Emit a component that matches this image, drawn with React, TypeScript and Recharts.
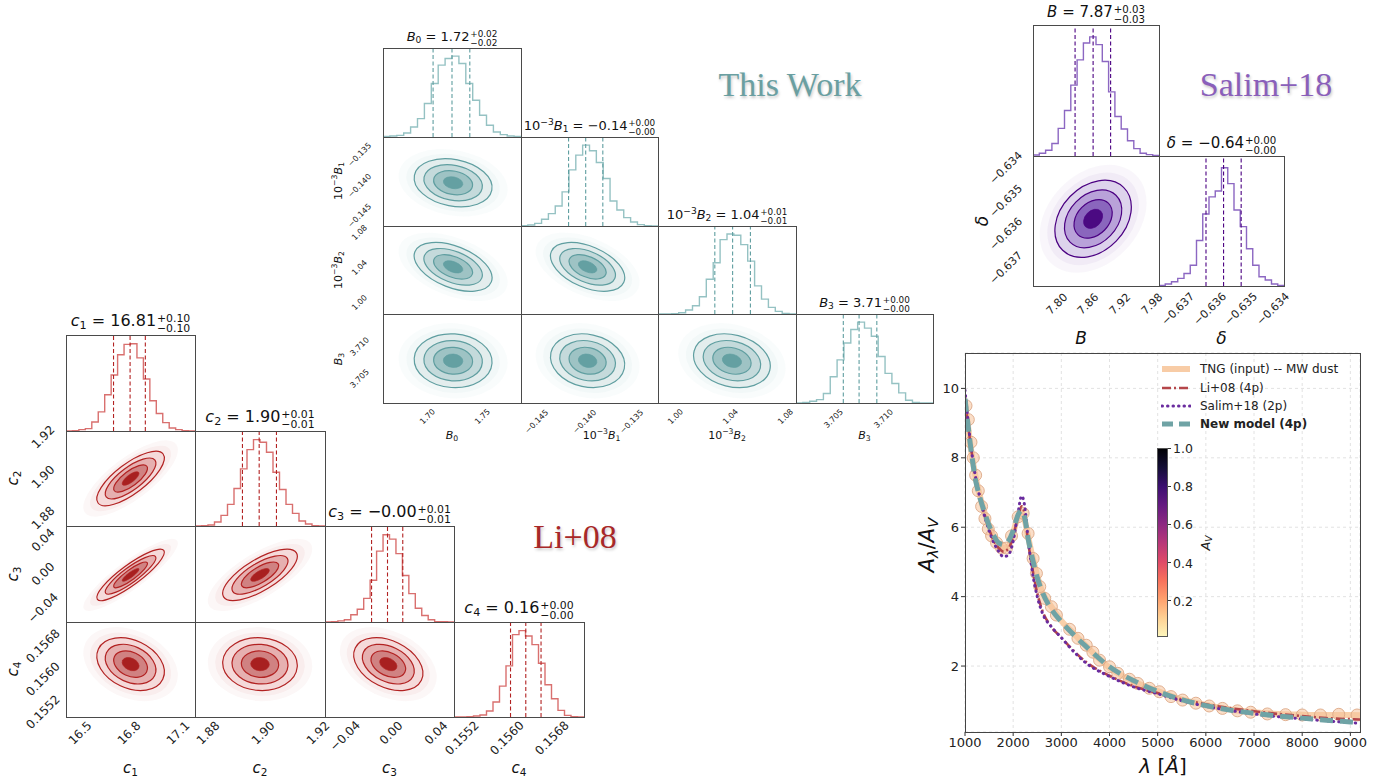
import React from 'react';
import { ComposedChart, ScatterChart, Line, Scatter, XAxis, YAxis, ReferenceLine, CartesianGrid } from 'recharts';

const FONT = '"DejaVu Sans", Verdana, sans-serif';
const MINUS = '\u2212';

// ================= Extinction curve panel =================
const lambdaGrid = [1000, 1050, 1100, 1150, 1200, 1300, 1400, 1500, 1600, 1700, 1800, 1900, 2000, 2100, 2175, 2250, 2300, 2400, 2500, 2600, 2800, 3000, 3200, 3500, 4000, 4500, 5000, 5500, 6000, 6500, 7000, 7500, 8000, 8500, 9000, 9200];
const tngCurve = [9.55, 9.05, 8.5, 8.0, 7.6, 6.95, 6.45, 6.05, 5.72, 5.5, 5.4, 5.45, 5.85, 6.3, 6.42, 6.15, 5.8, 5.15, 4.6, 4.15, 3.7, 3.3, 3.02, 2.6, 1.95, 1.56, 1.28, 1.04, 0.88, 0.75, 0.67, 0.62, 0.6, 0.59, 0.59, 0.58];
const liCurve = [9.75, 9.1, 8.55, 8.05, 7.6, 6.95, 6.4, 5.95, 5.6, 5.4, 5.3, 5.38, 5.75, 6.3, 6.6, 6.3, 5.7, 4.8, 4.1, 3.62, 3.12, 2.82, 2.52, 2.13, 1.72, 1.42, 1.22, 1.04, 0.9, 0.79, 0.7, 0.62, 0.56, 0.5, 0.47, 0.46];
const salimCurve = [9.95, 9.25, 8.6, 8.05, 7.6, 6.9, 6.35, 5.9, 5.55, 5.3, 5.15, 5.2, 5.6, 6.4, 6.9, 6.5, 5.8, 4.7, 4.0, 3.55, 3.12, 2.82, 2.5, 2.1, 1.7, 1.4, 1.2, 1.0, 0.84, 0.72, 0.62, 0.54, 0.48, 0.42, 0.37, 0.35];
const newModelCurve = [9.7, 9.1, 8.5, 7.98, 7.5, 6.9, 6.45, 6.05, 5.75, 5.55, 5.5, 5.6, 5.9, 6.35, 6.48, 6.2, 5.75, 5.1, 4.55, 4.15, 3.62, 3.28, 2.98, 2.58, 1.98, 1.58, 1.27, 1.03, 0.86, 0.73, 0.64, 0.56, 0.5, 0.44, 0.39, 0.37];
const tngMarkerLambda = [1021, 1069, 1124, 1172, 1221, 1276, 1345, 1414, 1483, 1552, 1655, 1759, 1862, 1966, 2103, 2207, 2310, 2414, 2483, 2552, 2655, 2793, 2897, 3172, 3345, 3517, 3655, 3793, 4000, 4172, 4414, 4586, 4828, 5034, 5276, 5517, 5793, 6069, 6345, 6655, 6931, 7276, 7655, 8000, 8379, 8759, 9138];
const tngMarkerValue = [9.5, 9.1, 8.45, 8.0, 7.5, 7.05, 6.6, 6.25, 5.95, 5.75, 5.55, 5.4, 5.4, 5.75, 6.3, 6.4, 5.82, 5.1, 4.67, 4.29, 3.95, 3.71, 3.47, 3.06, 2.8, 2.6, 2.4, 2.17, 1.98, 1.79, 1.62, 1.5, 1.36, 1.26, 1.12, 1.02, 0.93, 0.85, 0.78, 0.71, 0.67, 0.62, 0.6, 0.59, 0.59, 0.61, 0.59];
const lambdaTicks = [1000, 2000, 3000, 4000, 5000, 6000, 7000, 8000, 9000];
const ratioTicks = [2, 4, 6, 8, 10];
const colorbarTicks = [0.2, 0.4, 0.6, 0.8, 1.0];

// ================= This Work (teal corner) =================
const tealDomains = [[1.660, 1.784], [-0.1467, -0.1323], [0.9865, 1.0873], [3.7011, 3.7150]];
const tealTicks = [[1.70, 1.75], [-0.145, -0.140, -0.135], [1.00, 1.04, 1.08], [3.705, 3.710]];
const tealDecimals = [2, 3, 2, 3];
const tealLo = [1.705, -0.1417, 1.028, 3.7059];
const tealMed = [1.722, -0.1399, 1.041, 3.7075];
const tealHi = [1.738, -0.1381, 1.054, 3.7093];
const tealCenters = [1.723, -0.1397, 1.0405, 3.7077];
const tealSigmas = [0.0175, 0.00195, 0.014, 0.0021];
const tealB0Hist = [2, 3, 5, 12, 30, 55, 100, 160, 215, 235, 242, 220, 160, 110, 65, 35, 15, 7, 3, 2];
const tealB1Hist = [1, 3, 8, 20, 37, 60, 102, 168, 212, 242, 225, 190, 142, 75, 48, 25, 12, 4, 1, 0.5];
const tealB2Hist = [0, 0.5, 1, 4, 12, 25, 52, 105, 155, 225, 242, 238, 210, 160, 85, 45, 20, 8, 2, 0.5];
const tealB3Hist = [0, 2, 5, 10, 28, 78, 128, 178, 218, 240, 222, 198, 138, 88, 58, 30, 8, 2, 0.5, 0];
const tealRho = [[1], [-0.2, 1], [-0.45, -0.45, 1], [-0.05, -0.15, -0.2, 1]];
const tealTitleVals = ['1.72', MINUS + '0.14', '1.04', '3.71'];
const tealPlus = ['+0.02', '+0.00', '+0.01', '+0.00'];
const tealMinus = [MINUS + '0.02', MINUS + '0.00', MINUS + '0.01', MINUS + '0.00'];

// ================= Li+08 (red corner) =================
const redDomains = [[16.416, 17.203], [1.8753, 1.9227], [-0.0576, 0.0557], [0.15506, 0.15736]];
const redTicks = [[16.5, 16.8, 17.1], [1.88, 1.90, 1.92], [-0.04, 0.0, 0.04], [0.1552, 0.1560, 0.1568]];
const redDecimals = [1, 2, 2, 4];
const redLo = [16.706, 1.8926, -0.0167, 0.15606];
const redMed = [16.807, 1.8987, -0.0027, 0.15633];
const redHi = [16.900, 1.9050, 0.0107, 0.1566];
const redCenters = [16.81, 1.899, -0.002, 0.15634];
const redSigmas = [0.103, 0.0068, 0.0152, 0.00032];
const redC1Hist = [0.5, 1, 4, 7, 27, 57, 108, 167, 227, 258, 260, 218, 155, 90, 52, 25, 9, 4, 1, 0.5];
const redC2Hist = [0, 1, 3, 12, 32, 65, 113, 172, 230, 260, 252, 222, 162, 110, 65, 38, 15, 6, 1, 0];
const redC3Hist = [0, 0.5, 3, 6, 20, 35, 65, 115, 195, 240, 228, 188, 128, 78, 38, 18, 6, 1, 0.5, 0];
const redC4Hist = [0, 0.5, 1, 3, 6, 18, 45, 93, 154, 248, 260, 244, 218, 162, 97, 55, 20, 5, 1, 0];
const redRho = [[1], [0.75, 1], [0.88, 0.72, 1], [-0.3, -0.05, -0.35, 1]];
const redTitleVals = ['16.81', '1.90', MINUS + '0.00', '0.16'];
const redPlus = ['+0.10', '+0.01', '+0.01', '+0.00'];
const redMinus = [MINUS + '0.10', MINUS + '0.01', MINUS + '0.01', MINUS + '0.00'];

// ================= Salim+18 (purple corner) =================
const purDomains = [[7.7557, 7.9932], [-0.63758, -0.63367]];
const purTicks = [[7.80, 7.86, 7.92, 7.98], [-0.637, -0.636, -0.635, -0.634]];
const purDecimals = [2, 3];
const purLo = [7.835, -0.63611];
const purMed = [7.869, -0.63556];
const purHi = [7.902, -0.63501];
const purCenters = [7.869, -0.63556];
const purSigmas = [0.036, 0.00058];
const purBHist = [3, 8, 17, 37, 82, 135, 210, 285, 335, 353, 330, 280, 190, 117, 80, 45, 22, 8, 4, 2];
const purDeltaHist = [2, 6, 13, 23, 38, 63, 138, 218, 270, 288, 358, 310, 230, 180, 113, 63, 28, 18, 6, 2];
const purRho = [[1], [0.3, 1]];
const purTitleVals = ['7.87', MINUS + '0.64'];
const purPlus = ['+0.03', '+0.00'];
const purMinus = [MINUS + '0.03', MINUS + '0.00'];

// ================= helpers =================
type Palette = { line: string; hist: string; fills: string[] };
const TEAL: Palette = { line: '#5f9ea0', hist: '#95c2c3', fills: ['#e3eded', '#c4dadb', '#9ec3c4', '#64a0a2'] };
const RED: Palette = { line: '#b22222', hist: '#d9706f', fills: ['#f5dada', '#e6b0b0', '#d08282', '#a82020'] };
const PURPLE: Palette = { line: '#4b0082', hist: '#8c67c2', fills: ['#ddd3ec', '#b9a2d9', '#8a66bd', '#4b0a82'] };

function textWidth(s: string, fs: number) {
  let w = 0;
  for (const ch of s) w += ch === '.' ? 0.318 : ch === MINUS ? 0.838 : 0.636;
  return w * fs;
}
function fmt(v: number, d: number) {
  return v.toFixed(d).replace('-', MINUS);
}
const emptyTick = () => <g />;

// 45-degree rotated tick label (HTML), centred on (cx, cy)
function RotLabel({ cx, cy, text, fs }: { cx: number; cy: number; text: string; fs: number }) {
  return (
    <div style={{ position: 'absolute', left: cx, top: cy, transform: 'translate(-50%, -50%) rotate(-45deg)', fontSize: fs, lineHeight: 1, whiteSpace: 'nowrap', color: '#222' }}>
      {text}
    </div>
  );
}

const Sub = ({ children }: { children: React.ReactNode }) => (
  <span style={{ fontSize: '0.7em', verticalAlign: '-0.3em', lineHeight: 0 }}>{children}</span>
);
const Sup = ({ children }: { children: React.ReactNode }) => (
  <span style={{ fontSize: '0.7em', verticalAlign: '0.55em', lineHeight: 0 }}>{children}</span>
);
function Script({ plus, minus }: { plus: string; minus: string }) {
  return (
    <span style={{ display: 'inline-block', verticalAlign: '-0.55em', fontSize: '0.68em', lineHeight: '0.95em', marginLeft: '0.08em' }}>
      <span style={{ display: 'block' }}>{plus}</span>
      <span style={{ display: 'block' }}>{minus}</span>
    </span>
  );
}

function ellipseShape(pxX: number, pxY: number, sx: number, sy: number, rho: number, pal: Palette) {
  return (props: any) => {
    const cx = props.cx ?? props.x + (props.width || 0) / 2;
    const cy = props.cy ?? props.y + (props.height || 0) / 2;
    const ax = sx * pxX, ay = sy * pxY;
    const a = ax * ax, d = ay * ay, b = -rho * ax * ay;
    const T = (a + d) / 2, D = Math.sqrt(((a - d) / 2) ** 2 + b * b);
    const r1 = Math.sqrt(T + D), r2 = Math.sqrt(Math.max(T - D, 0.01));
    const ang = (0.5 * Math.atan2(2 * b, a - d) * 180) / Math.PI;
    const levels = [2, 1.5, 1, 0.5];
    return (
      <g transform={`translate(${cx},${cy}) rotate(${ang})`}>
        <ellipse rx={2.8 * r1} ry={2.8 * r2} fill={pal.line} fillOpacity={0.035} />
        <ellipse rx={2.4 * r1} ry={2.4 * r2} fill={pal.line} fillOpacity={0.045} />
        {levels.map((k, idx) => (
          <ellipse key={k} rx={k * r1} ry={k * r2} fill={pal.fills[idx]} stroke={pal.line} strokeWidth={idx === 3 ? 0.6 : 1.2} />
        ))}
      </g>
    );
  };
}

type CornerProps = {
  left: number; top: number; cellW: number; cellH: number;
  domains: number[][]; ticks: number[][]; decimals: number[];
  hists: number[][]; lo: number[]; med: number[]; hi: number[];
  centers: number[]; sigmas: number[]; rho: number[][];
  pal: Palette; tickFs: number; xGap: number; yOff: number;
  titleFs: number; symbols: React.ReactNode[]; titleVals: string[]; plus: string[]; minus: string[];
  labelFs: number; xLabelY: number; yLabelX: number; labels: React.ReactNode[]; xLabelDx?: number[];
};

const TICK = 3.5;

function Corner(p: CornerProps) {
  const n = p.domains.length;
  const els: React.ReactNode[] = [];
  for (let i = 0; i < n; i++) {
    for (let j = 0; j <= i; j++) {
      const l = Math.round(p.left + j * p.cellW), r = Math.round(p.left + (j + 1) * p.cellW);
      const t = Math.round(p.top + i * p.cellH), b = Math.round(p.top + (i + 1) * p.cellH);
      const w = r - l, h = b - t;
      const showX = i === n - 1, showY = j === 0 && i > 0;
      const key = `${i}-${j}`;
      if (i === j) {
        const cnt = p.hists[j];
        const [d0, d1] = p.domains[j];
        const step = (d1 - d0) / cnt.length; // equal-width histogram bins across the panel range
        const hd = [{ v: d0, c: 0 }, ...cnt.map((c, k) => ({ v: d0 + k * step, c })), { v: d1, c: cnt[cnt.length - 1] }, { v: d1, c: 0 }];
        const ymax = Math.max(...cnt) * 1.1;
        els.push(
          <div key={key} style={{ position: 'absolute', left: l, top: t }}>
            <ComposedChart width={w} height={h} data={hd} margin={{ top: 0, right: 0, bottom: 0, left: 0 }}>
              <XAxis dataKey="v" type="number" domain={[d0, d1]} ticks={p.ticks[j]} interval={0} height={0}
                allowDataOverflow axisLine={false} tickLine={{ stroke: '#444' }} tickSize={TICK} tick={emptyTick} />
              <YAxis type="number" domain={[0, ymax]} hide allowDataOverflow />
              <Line type="stepAfter" dataKey="c" stroke={p.pal.hist} strokeWidth={1.4} dot={false} isAnimationActive={false} />
              {[p.lo[j], p.med[j], p.hi[j]].map((q, k) => (
                <ReferenceLine key={k} x={q} stroke={p.pal.line} strokeDasharray="4 2.5" strokeWidth={1.1} />
              ))}
            </ComposedChart>
          </div>
        );
        els.push(
          <div key={key + 't'} style={{ position: 'absolute', left: (l + r) / 2, top: t - 1, transform: 'translate(-50%, -100%)', whiteSpace: 'nowrap', fontSize: p.titleFs, lineHeight: 1, color: '#111' }}>
            {p.symbols[j]} = {p.titleVals[j]}<Script plus={p.plus[j]} minus={p.minus[j]} />
          </div>
        );
      } else {
        const pxX = w / (p.domains[j][1] - p.domains[j][0]);
        const pxY = h / (p.domains[i][1] - p.domains[i][0]);
        els.push(
          <div key={key} style={{ position: 'absolute', left: l, top: t }}>
            <ScatterChart width={w} height={h} margin={{ top: 0, right: 0, bottom: 0, left: 0 }}>
              <XAxis dataKey="x" type="number" domain={p.domains[j]} ticks={p.ticks[j]} interval={0} height={0}
                allowDataOverflow axisLine={false} tickLine={{ stroke: '#444' }} tickSize={TICK} tick={emptyTick} />
              <YAxis dataKey="y" type="number" domain={p.domains[i]} ticks={p.ticks[i]} interval={0} width={0}
                allowDataOverflow axisLine={false} tickLine={{ stroke: '#444' }} tickSize={TICK} tick={emptyTick} />
              <Scatter data={[{ x: p.centers[j], y: p.centers[i] }]} isAnimationActive={false}
                shape={ellipseShape(pxX, pxY, p.sigmas[j], p.sigmas[i], p.rho[i][j], p.pal)} />
            </ScatterChart>
          </div>
        );
      }
      // tick labels (rotated 45 degrees like the corner plots)
      if (showX) {
        const [d0, d1] = p.domains[j];
        p.ticks[j].forEach((v, k) => {
          const s = fmt(v, p.decimals[j]);
          const half = (textWidth(s, p.tickFs) + 0.75 * p.tickFs) * 0.3536;
          const px = l + ((v - d0) / (d1 - d0)) * w;
          els.push(<RotLabel key={key + 'xt' + k} cx={px} cy={b + p.xGap + half} text={s} fs={p.tickFs} />);
        });
      }
      if (showY) {
        const [d0, d1] = p.domains[i];
        p.ticks[i].forEach((v, k) => {
          const s = fmt(v, p.decimals[i]);
          const py = b - ((v - d0) / (d1 - d0)) * h;
          els.push(<RotLabel key={key + 'yt' + k} cx={l - p.yOff} cy={py + 1} text={s} fs={p.tickFs} />);
        });
      }
      els.push(
        <div key={key + 'f'} style={{ position: 'absolute', left: l, top: t, width: w + 1, height: h + 1, border: '1px solid #4a4a4a', boxSizing: 'border-box', pointerEvents: 'none' }} />
      );
    }
  }
  for (let j = 0; j < n; j++) {
    const cx = p.left + (j + 0.5) * p.cellW + (p.xLabelDx ? p.xLabelDx[j] : 0);
    els.push(
      <div key={'xl' + j} style={{ position: 'absolute', left: cx, top: p.xLabelY, transform: 'translate(-50%, -50%)', whiteSpace: 'nowrap', fontSize: p.labelFs, color: '#111' }}>
        {p.labels[j]}
      </div>
    );
  }
  for (let i = 1; i < n; i++) {
    const cy = p.top + (i + 0.5) * p.cellH;
    els.push(
      <div key={'yl' + i} style={{ position: 'absolute', left: p.yLabelX, top: cy, transform: 'translate(-50%, -50%) rotate(-90deg)', whiteSpace: 'nowrap', fontSize: p.labelFs, color: '#111' }}>
        {p.labels[i]}
      </div>
    );
  }
  return <>{els}</>;
}

const tealSymbols = [
  <><i>B</i><Sub>0</Sub></>,
  <>10<Sup>{MINUS}3</Sup><i>B</i><Sub>1</Sub></>,
  <>10<Sup>{MINUS}3</Sup><i>B</i><Sub>2</Sub></>,
  <><i>B</i><Sub>3</Sub></>,
];
const redSymbols = [1, 2, 3, 4].map((k) => <><i>c</i><Sub>{k}</Sub></>);
const purSymbols = [<i>B</i>, <i>δ</i>];

function LegendBox() {
  const rows = [
    { label: 'TNG (input) -- MW dust', stroke: '#f8cca6', w: 6, dash: undefined as string | undefined, cap: 'butt', bold: false },
    { label: 'Li+08 (4p)', stroke: '#b5464a', w: 2.6, dash: '9 3 2 3', cap: 'butt', bold: false },
    { label: 'Salim+18 (2p)', stroke: '#6a2c9f', w: 3, dash: '0.5 5', cap: 'round', bold: false },
    { label: 'New model (4p)', stroke: '#6fa3a5', w: 5, dash: '11 6', cap: 'butt', bold: true },
  ];
  const ys = [369, 387.5, 405.5, 424];
  return (
    <>
      {rows.map((r, k) => (
        <div key={k} style={{ position: 'absolute', left: 1161, top: ys[k] - 9, height: 18, display: 'flex', alignItems: 'center', whiteSpace: 'nowrap' }}>
          <svg width={30} height={18} style={{ marginRight: 9 }}>
            <line x1={1} x2={29} y1={9} y2={9} stroke={r.stroke} strokeWidth={r.w} strokeDasharray={r.dash} strokeLinecap={r.cap as any} />
          </svg>
          <span style={{ fontSize: 12, fontWeight: r.bold ? 'bold' : 'normal', color: '#222' }}>{r.label}</span>
        </div>
      ))}
    </>
  );
}

function Colorbar() {
  const top = 448, height = 189, left = 1157, width = 11;
  const stops = ['#fcf5bb 0%', '#fecf92 10%', '#fe9f6d 20%', '#f7705c 30%', '#de4968 40%', '#b73779 50%', '#8c2981 60%', '#641a80 70%', '#3b0f70 80%', '#140e36 90%', '#000004 100%'];
  return (
    <>
      <div style={{ position: 'absolute', left, top, width, height, background: `linear-gradient(to top, ${stops.join(', ')})`, border: '1px solid #555', boxSizing: 'border-box' }} />
      {colorbarTicks.map((v) => {
        const y = top + (1.0 - v) * 191;
        return (
          <React.Fragment key={v}>
            <div style={{ position: 'absolute', left: left + width, top: y - 0.5, width: 3, height: 1, background: '#333' }} />
            <div style={{ position: 'absolute', left: left + width + 5, top: y, transform: 'translateY(-50%)', fontSize: 12.5, color: '#222' }}>{v.toFixed(1)}</div>
          </React.Fragment>
        );
      })}
      <div style={{ position: 'absolute', left: 1205, top: 543, transform: 'translate(-50%, -50%) rotate(-90deg)', fontSize: 13, color: '#222', whiteSpace: 'nowrap' }}>
        <i>A</i><Sub><i>V</i></Sub>
      </div>
    </>
  );
}

function MarkerCircle(props: any) {
  const { cx, cy } = props;
  return <circle cx={cx} cy={cy} r={6} fill="#f5c29b" fillOpacity={0.55} stroke="#dda887" strokeOpacity={0.9} strokeWidth={1} />;
}

function ExtinctionChart() {
  const rows = lambdaGrid.map((l, k) => ({ l, tng: tngCurve[k], li: liCurve[k], sal: salimCurve[k], nm: newModelCurve[k] }));
  const markers = tngMarkerLambda.map((l, k) => ({ l, v: tngMarkerValue[k] }));
  const tickStyle = { fontSize: 13, fill: '#222', fontFamily: FONT };
  const chartProps = { width: 465, height: 434, data: rows, margin: { top: 10, right: 5, bottom: 0, left: 0 } };
  return (
    <>
      <div style={{ position: 'absolute', left: 900, top: 343 }}>
        <ComposedChart {...chartProps}>
          <CartesianGrid stroke="#e2e2e2" strokeDasharray="3 3" />
          <XAxis dataKey="l" type="number" domain={[1000, 9200]} ticks={lambdaTicks} interval={0} height={45} allowDataOverflow
            tick={tickStyle} tickSize={4} tickLine={{ stroke: '#333' }} axisLine={false} />
          <YAxis type="number" domain={[0.1, 11.02]} ticks={ratioTicks} interval={0} width={65} allowDataOverflow
            tick={tickStyle} tickSize={4} tickLine={{ stroke: '#333' }} axisLine={false} />
          <Line dataKey="tng" type="monotone" stroke="#f9d0aa" strokeWidth={6} dot={false} isAnimationActive={false} />
          <Scatter data={markers} dataKey="v" shape={<MarkerCircle />} isAnimationActive={false} />
        </ComposedChart>
      </div>
      <div style={{ position: 'absolute', left: 900, top: 343 }}>
        <ComposedChart {...chartProps}>
          <XAxis dataKey="l" type="number" domain={[1000, 9200]} ticks={lambdaTicks} interval={0} height={45} allowDataOverflow
            tick={emptyTick} tickLine={false} axisLine={false} />
          <YAxis type="number" domain={[0.1, 11.02]} ticks={ratioTicks} interval={0} width={65} allowDataOverflow
            tick={emptyTick} tickLine={false} axisLine={false} />
          <Line dataKey="li" type="monotone" stroke="#b5464a" strokeWidth={2.6} strokeDasharray="9 3 2 3" dot={false} isAnimationActive={false} />
          <Line dataKey="sal" type="monotone" stroke="#6a2c9f" strokeWidth={3} strokeDasharray="0.5 5" strokeLinecap="round" dot={false} isAnimationActive={false} />
          <Line dataKey="nm" type="monotone" stroke="#6fa3a5" strokeWidth={5} strokeDasharray="13 7" dot={false} isAnimationActive={false} />
        </ComposedChart>
      </div>
      <div style={{ position: 'absolute', left: 965, top: 353, width: 396, height: 380, border: '1px solid #444', boxSizing: 'border-box', pointerEvents: 'none' }} />
      <LegendBox />
      <Colorbar />
      <div style={{ position: 'absolute', left: 1163, top: 766, transform: 'translate(-50%, -50%)', fontSize: 20, color: '#111', whiteSpace: 'nowrap' }}>
        <i>λ</i> [<i>Å</i>]
      </div>
      <div style={{ position: 'absolute', left: 927, top: 545, transform: 'translate(-50%, -50%) rotate(-90deg)', fontSize: 21, color: '#111', whiteSpace: 'nowrap' }}>
        <i>A</i><Sub><i>λ</i></Sub>/<i>A</i><Sub><i>V</i></Sub>
      </div>
    </>
  );
}

const bigTitle = (text: string, cx: number, cy: number, color: string) => (
  <div style={{ position: 'absolute', left: cx, top: cy, transform: 'translate(-50%, -50%)', fontFamily: '"Liberation Serif", "Times New Roman", serif', fontSize: 34, color, textShadow: '1px 2px 3px rgba(0,0,0,0.22)', whiteSpace: 'nowrap' }}>
    {text}
  </div>
);

export default function App() {
  return (
    <div style={{ position: 'absolute', left: 0, top: 0, width: 1390, height: 781, background: '#fff', overflow: 'hidden', fontFamily: FONT }}>
      <style>{`.recharts-surface{overflow:visible}`}</style>
      <Corner left={383.3} top={48} cellW={137.5} cellH={88.75}
        domains={tealDomains} ticks={tealTicks} decimals={tealDecimals}
        hists={[tealB0Hist, tealB1Hist, tealB2Hist, tealB3Hist]} lo={tealLo} med={tealMed} hi={tealHi}
        centers={tealCenters} sigmas={tealSigmas} rho={tealRho} pal={TEAL} xGap={6} yOff={23.3}
        tickFs={8} titleFs={13} symbols={tealSymbols} titleVals={tealTitleVals} plus={tealPlus} minus={tealMinus}
        labelFs={11} xLabelY={435} yLabelX={338} labels={tealSymbols} xLabelDx={[0, 12, 0, 0]} />
      <Corner left={65.7} top={335} cellW={129.5} cellH={95.5}
        domains={redDomains} ticks={redTicks} decimals={redDecimals}
        hists={[redC1Hist, redC2Hist, redC3Hist, redC4Hist]} lo={redLo} med={redMed} hi={redHi}
        centers={redCenters} sigmas={redSigmas} rho={redRho} pal={RED} xGap={3} yOff={23.5}
        tickFs={12} titleFs={16} symbols={redSymbols} titleVals={redTitleVals} plus={redPlus} minus={redMinus}
        labelFs={15} xLabelY={768} yLabelX={13} labels={redSymbols} />
      <Corner left={1033.3} top={25} cellW={125.4} cellH={130.5}
        domains={purDomains} ticks={purTicks} decimals={purDecimals}
        hists={[purBHist, purDeltaHist]} lo={purLo} med={purMed} hi={purHi}
        centers={purCenters} sigmas={purSigmas} rho={purRho} pal={PURPLE} xGap={6} yOff={26.6}
        tickFs={11} titleFs={15} symbols={purSymbols} titleVals={purTitleVals} plus={purPlus} minus={purMinus}
        labelFs={17} xLabelY={338} yLabelX={982} labels={purSymbols} xLabelDx={[-15, 0]} />
      {bigTitle('This Work', 790, 85, '#6a9fa1')}
      {bigTitle('Salim+18', 1266, 85, '#8a5fba')}
      {bigTitle('Li+08', 575, 537, '#a82828')}
      <ExtinctionChart />
    </div>
  );
}
